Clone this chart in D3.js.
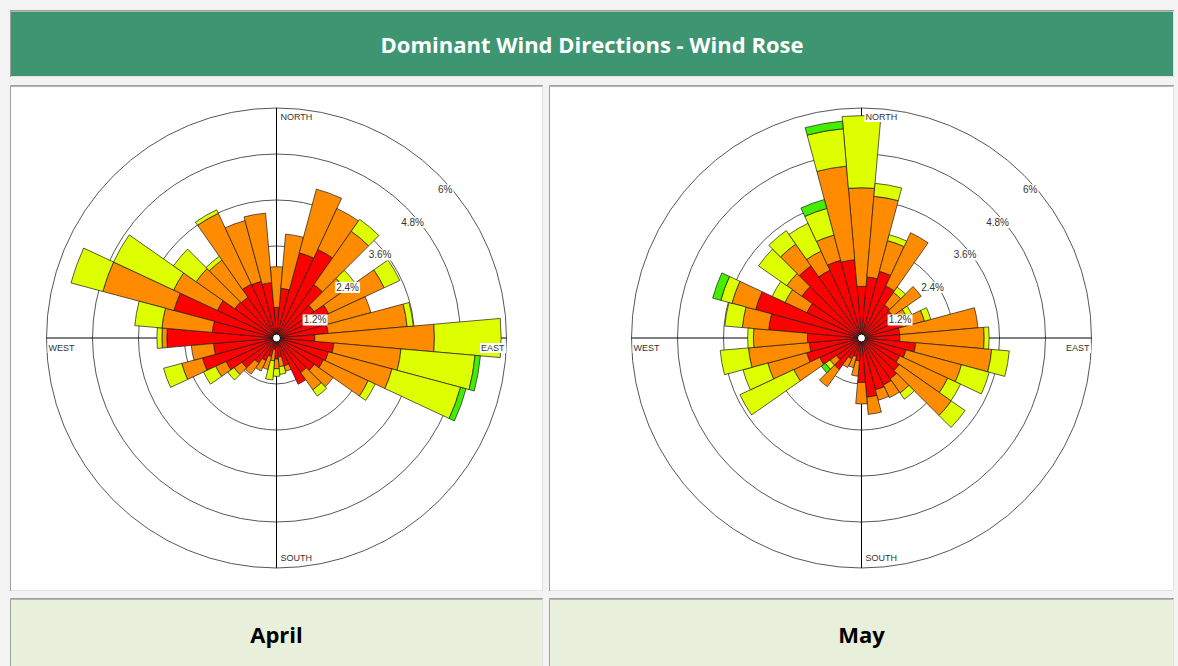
<!DOCTYPE html>
<html>
<head>
<meta charset="utf-8">
<script src="https://cdn.jsdelivr.net/npm/d3@7"></script>
<style>
body{margin:0;background:#f3f3f3;overflow:hidden}
svg{display:block}
.small{font-family:'Liberation Sans',Arial,sans-serif;fill:#333}
.cap{font-family:'Open Sans',sans-serif;font-weight:bold;font-size:22px}
</style>
</head>
<body>
<svg width="1178" height="666"></svg>
<script>
const directions = [0,10,20,30,40,50,60,70,80,90,100,110,120,130,140,150,160,170,180,190,200,210,220,230,240,250,260,270,280,290,300,310,320,330,340,350]
const speedClasses = ['low','mid','high','top']
const classColors = ['#ff0000','#ff8c00','#ddff00','#44ee00']
const months = ['April','May']
const ringTicks = [1.2,2.4,3.6,4.8,6]
const compass = ['NORTH','EAST','SOUTH','WEST']

// April, % per speed class and direction
const aprilLow  = [0.8,1.3,2.3,2.55,1.7,1.2,1.5,1.3,1.35,1.0,1.5,1.4,1.35,1.2,1.1,1.33,0.75,0.5,0.55,0.3,0.5,0.65,0.8,1.1,1.45,2.0,1.65,2.86,1.68,2.77,1.7,1.33,1.3,1.55,1.53,1.45]
const aprilMid  = [1.06,1.42,1.72,1.18,1.7,1.0,1.6,1.25,2.07,3.12,1.76,1.72,1.29,0.6,0.55,0,0.15,0.25,0.25,0.3,0.35,0.3,0.35,0.25,0.3,0.56,0.58,0.13,1.32,1.92,1.26,1.23,1.18,2.04,1.64,1.82]
const aprilHigh = [0,0,0,0,0.38,0.3,0.45,0,0.16,1.74,1.94,1.85,0.2,0,0.2,0,0,0.2,0.2,0.5,0,0,0,0.2,0.35,0.49,0,0.13,0.71,0.86,1.73,0.72,0.12,0.1,0,0]
const aprilTop  = [0,0,0,0,0,0,0,0,0,0,0.14,0.15,0,0,0,0,0,0,0,0,0,0,0,0,0,0,0,0,0,0,0,0,0,0,0,0]

// May
const mayLow  = [1.35,1.6,1.8,1.5,1.05,1.0,0.9,1.1,1.0,1.0,1.42,1.2,1.1,1.2,1.3,1.35,1.4,1.55,1.16,0.6,0.5,0.6,1.0,0.8,1.2,1.48,1.37,1.41,2.43,2.86,1.57,1.9,2.3,1.95,2.1,2.05]
const mayMid  = [2.57,2.11,0.83,1.53,0.4,0.9,0.4,0.6,2.05,2.2,1.99,1.5,1.38,1.66,0.45,0.37,0.28,0.45,0.56,0.4,0.3,0.25,0.55,0.2,0.75,1.05,1.59,1.41,0.69,0.64,0.63,0.48,0.69,0.55,0.68,2.45]
const mayHigh = [1.88,0.34,0.16,0,0.17,0,0.15,0.17,0,0.13,0.46,0.75,0.37,0.44,0.2,0,0,0,0,0,0,0,0,0.15,1.55,0.67,0.74,0.15,0.46,0.3,0.37,0.9,0.43,0.8,0.72,0.98]
const mayTop  = [0,0,0,0,0,0,0,0,0,0,0,0,0,0,0,0,0,0,0,0,0,0,0,0.13,0,0,0,0,0,0.22,0,0,0,0,0.24,0.2]

const table = (series) => directions.map((dir,i) => {
  const row = {dir}
  speedClasses.forEach((k,j) => row[k] = series[j][i])
  return row
})
const roses = [
  table([aprilLow,aprilMid,aprilHigh,aprilTop]),
  table([mayLow,mayMid,mayHigh,mayTop])
]

const svg = d3.select('svg')
const R = 230

const r = d3.scaleLinear().domain([0,6]).range([0,R])
const angle = d3.scaleBand()
  .domain(directions)
  .range([-Math.PI/36, 2*Math.PI - Math.PI/36])
const color = d3.scaleOrdinal().domain(speedClasses).range(classColors)
const stack = d3.stack().keys(speedClasses)

const arc = d3.arc()
  .innerRadius(d => r(d[0]))
  .outerRadius(d => r(d[1]))
  .startAngle(d => angle(d.data.dir))
  .endAngle(d => angle(d.data.dir) + angle.bandwidth())

/* cells */
function cell(x,y,w,h,fill){
  const g = svg.append('g')
  g.append('rect').attr('x',x).attr('y',y).attr('width',w).attr('height',h).attr('fill',fill)
  g.append('path').attr('d',`M${x+0.5},${y+h}V${y+0.5}H${x+w}`)
    .attr('fill','none').attr('stroke','#a0a0a0').attr('stroke-width',1)
  g.append('line').attr('x1',x).attr('x2',x+w).attr('y1',y+1.5).attr('y2',y+1.5)
    .attr('stroke','#b4b4b4')
  g.append('path').attr('d',`M${x+1},${y+h-0.5}H${x+w-0.5}V${y+1}`)
    .attr('fill','none').attr('stroke','#e2e2e2')
  return g
}

cell(10,10,1164,67,'#3d9571')
svg.append('text').classed('cap',true)
  .attr('x',592).attr('y',53)
  .attr('text-anchor','middle')
  .attr('fill','#fff')
  .text('Dominant Wind Directions - Wind Rose')

const panels = [{x:10,w:533},{x:549,w:625}]

panels.forEach((p,i) => {
  cell(p.x,85,p.w,506,'#fff')
  cell(p.x,598,p.w,80,'#e8f0dc')
  svg.append('text').classed('cap',true)
    .attr('x',p.x + p.w/2).attr('y',643)
    .attr('text-anchor','middle')
    .attr('fill','#000')
    .text(months[i])

  const cx = p.x + p.w/2, cy = 338
  const g = svg.append('g').attr('transform',`translate(${cx},${cy})`)

  g.selectAll('.ring').data(ringTicks)
    .enter().append('circle').classed('ring',true)
    .attr('r',d => r(d))
    .attr('fill','none')
    .attr('stroke','#444')
    .attr('stroke-width',0.9)

  g.append('line').attr('x1',0).attr('x2',0).attr('y1',-R).attr('y2',R).attr('stroke','#000')
  g.append('line').attr('y1',0).attr('y2',0).attr('x1',-R).attr('x2',R).attr('stroke','#000')

  const layers = stack(roses[i])
  g.selectAll('.layer').data(layers)
    .enter().append('g').classed('layer',true)
    .attr('fill',d => color(d.key))
    .selectAll('path').data(d => d.filter(s => s[1] > s[0]))
    .enter().append('path')
    .attr('d',arc)
    .attr('stroke','#1a1a1a')
    .attr('stroke-width',0.7)
    .attr('stroke-linejoin','round')

  g.append('circle').attr('r',4).attr('fill','#fff').attr('stroke','#000').attr('stroke-width',1)

  const labelled = (sel) => sel.each(function(){
    const t = d3.select(this)
    const b = this.getBBox()
    d3.select(this.parentNode).insert('rect',() => this)
      .attr('x',b.x-1).attr('y',b.y).attr('width',b.width+2).attr('height',b.height)
      .attr('fill','#fff')
  })

  /* ring labels */
  const s45 = Math.SQRT1_2
  g.selectAll('.tick').data(ringTicks)
    .enter().append('g').classed('tick',true)
    .append('text').classed('small',true)
    .attr('x',d => r(d)*s45 + 6)
    .attr('y',d => -r(d)*s45 + 18)
    .attr('text-anchor','middle')
    .attr('font-size',10)
    .text(d => d + '%')
    .call(labelled)

  /* compass labels */
  const pos = {
    NORTH:{x:4,y:-R+12,a:'start'},
    EAST:{x:R-2,y:13,a:'end'},
    SOUTH:{x:4,y:R-7,a:'start'},
    WEST:{x:-R+2,y:13,a:'start'}
  }
  g.selectAll('.dir').data(compass)
    .enter().append('g').classed('dir',true)
    .append('text').classed('small',true)
    .attr('x',d => pos[d].x)
    .attr('y',d => pos[d].y)
    .attr('text-anchor',d => pos[d].a)
    .attr('font-size',9)
    .text(d => d)
    .call(labelled)
})
</script>
</body>
</html>
